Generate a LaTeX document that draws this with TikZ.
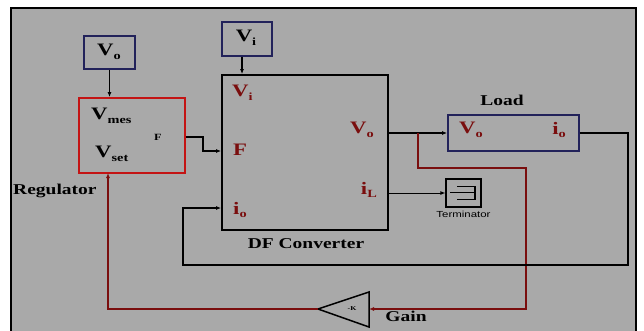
\documentclass[tikz,border=0pt]{standalone}
\usepackage{fontspec}
\setmainfont{Liberation Serif}[FakeStretch=1.3]
\newfontfamily\tsans{Liberation Sans}[FakeStretch=1.3]
\usetikzlibrary{arrows.meta}
\definecolor{bg}{HTML}{A9A9A9}
\definecolor{navy}{HTML}{22225A}
\definecolor{bred}{HTML}{C41414}
\definecolor{dred}{HTML}{7A0E0E}
\newcommand\Vs[2]{#1\raisebox{-3.5pt}{\fontsize{11}{11}\selectfont #2}}
\begin{document}
\begin{tikzpicture}[x=1pt,y=-1pt,
  navybox/.style={draw=navy,line width=1.8pt,rectangle,inner sep=0pt},
  redbox/.style={draw=bred,line width=1.8pt,rectangle,inner sep=0pt},
  blkbox/.style={draw=black,line width=1.8pt,rectangle,inner sep=0pt},
  conn/.style={draw=black,line width=1.3pt},
  rconn/.style={draw=dred,line width=1.3pt},
  tip/.style={-{Latex[length=5pt,width=4pt]}},
  lab/.style={inner sep=0pt,font=\bfseries\fontsize{17.5}{17.5}\selectfont},
  rlab/.style={lab,text=dred},
  title/.style={inner sep=0pt,font=\bfseries\fontsize{15}{15}\selectfont}]
\useasboundingbox (0,0) rectangle (644,331);
\fill[white] (0,0) rectangle (644,331);
\fill[bg] (11,8) rectangle (636,331);
\draw[line width=2pt] (11,331) -- (11,8) -- (636,8) -- (636,331);
% blocks
\node[navybox,minimum width=51pt,minimum height=33pt] (vob) at (109.5,52.5) {};
\node[navybox,minimum width=50pt,minimum height=34pt] (vib) at (247,39) {};
\node[redbox,minimum width=106pt,minimum height=75pt] (reg) at (132,135.5) {};
\node[blkbox,minimum width=166pt,minimum height=155pt] (conv) at (305,152.5) {};
\node[navybox,minimum width=131pt,minimum height=36pt] (load) at (513.5,133) {};
\node[draw=black,line width=1.2pt,minimum width=35pt,minimum height=28pt,inner sep=0pt] (term) at (463.5,193) {};
\draw[line width=1.2pt] (457,186.5) -- (475,186.5) -- (475,199.5) -- (457,199.5);
\draw[line width=1.2pt] (450,192.5) -- (475,192.5);
\coordinate (gtip) at (318,309);
\coordinate (gin) at (369,309);
\draw[line width=1.5pt,fill=bg] (gtip) -- (369,292) -- (369,327) -- cycle;
% texts
\node[lab] (t1) at (109,52) {\Vs{V}{o}};
\node[lab] (t2) at (246,38) {\Vs{V}{i}};
\node[lab,anchor=west] (t3) at (91,116) {\Vs{V}{mes}};
\node[lab,anchor=west] (t4) at (95,154) {\Vs{V}{set}};
\node[inner sep=0pt,font=\bfseries\fontsize{9.5}{9.5}\selectfont] (t5) at (158,137) {F};
\node[title,anchor=west] (t6) at (13,191) {Regulator};
\node[rlab,anchor=west] (t7) at (232,93) {\Vs{V}{i}};
\node[rlab,anchor=west] (t8) at (233,150) {F};
\node[rlab,anchor=west] (t9) at (233,210) {\Vs{i}{o}};
\node[rlab,anchor=east] (t10) at (374,130) {\Vs{V}{o}};
\node[rlab,anchor=east] (t11) at (377,190) {\Vs{i}{L}};
\node[title] (t12) at (306,244) {DF Converter};
\node[title] (t13) at (502,100) {Load};
\node[rlab,anchor=west] (t14) at (459,130) {\Vs{V}{o}};
\node[rlab,anchor=east] (t15) at (566,130) {\Vs{i}{o}};
\node[inner sep=0pt,font=\tsans\fontsize{8.8}{8.8}\selectfont] (t16) at (463.5,214) {Terminator};
\node[title] (t17) at (406,316) {Gain};
\node[inner sep=0pt,font=\bfseries\fontsize{6}{6}\selectfont] (t18) at (352,309) {-K};
% connectors
\draw[conn,tip] (vob.south) -- (vob.south |- reg.north);
\draw[conn,tip] ([xshift=-5pt]vib.south) -- ([xshift=-5pt]vib.south |- conv.north);
\coordinate (f1) at (reg.east |- 0,137);
\coordinate (f2) at (203,137);
\coordinate (f3) at (203,151);
\coordinate (f4) at (conv.west |- 0,151);
\draw[conn,tip] (f1) -- (f2) -- (f3) -- (f4);
\coordinate (vo1) at (conv.east |- load.west);
\draw[conn,tip] (vo1) -- (load.west);
\coordinate (b1) at (418,133);
\coordinate (b2) at (418,168);
\coordinate (b3) at (526,168);
\coordinate (b4) at (526,309);
\draw[rconn,tip] (b1) -- (b2) -- (b3) -- (b4) -- (gin);
\coordinate (r1) at (108,309);
\coordinate (r2) at (108,173);
\draw[rconn,tip] (gtip) -- (r1) -- (r2);
\coordinate (i1) at (628,133);
\coordinate (i2) at (628,265);
\coordinate (i3) at (183,265);
\coordinate (i4) at (183,208);
\coordinate (i5) at (conv.west |- 0,208);
\draw[conn,tip] (load.east) -- (i1) -- (i2) -- (i3) -- (i4) -- (i5);
\coordinate (l1) at (conv.east |- 0,193);
\draw[conn,line width=1pt,tip] (l1) -- (term.west);
\end{tikzpicture}
\end{document}
